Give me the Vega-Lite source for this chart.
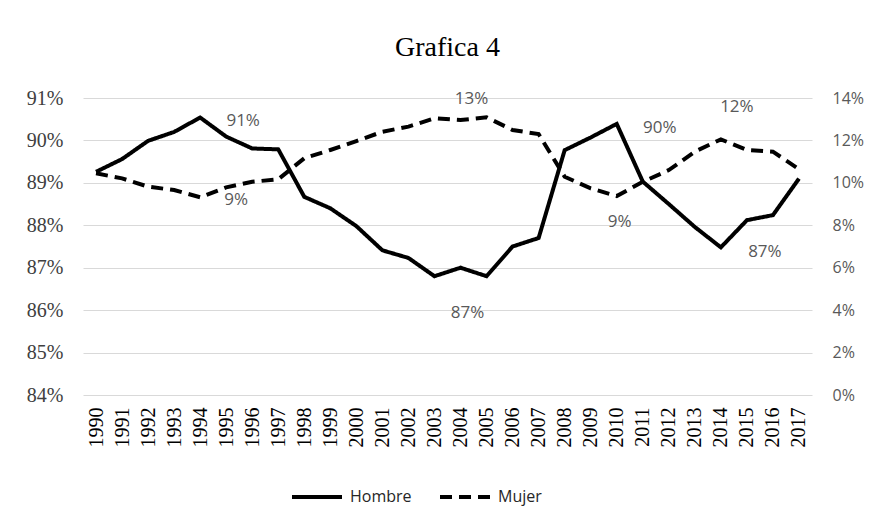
{
  "$schema": "https://vega.github.io/schema/vega-lite/v6.json",
  "width": 729,
  "height": 297,
  "autosize": {"type": "none"},
  "padding": {"left": 83, "top": 98, "right": 63, "bottom": 134},
  "background": "white",
  "config": {"view": {"stroke": null}},
  "title": {"text": "Grafica 4", "font": "Liberation Serif", "fontSize": 28, "fontWeight": "normal", "color": "#000000", "offset": 26, "anchor": "middle"},
  "data": {
    "values": [
      {"year": 1990, "hombre": 0.8926, "mujer": 0.1045},
      {"year": 1991, "hombre": 0.8956, "mujer": 0.1021},
      {"year": 1992, "hombre": 0.8999, "mujer": 0.0982},
      {"year": 1993, "hombre": 0.9020, "mujer": 0.0966},
      {"year": 1994, "hombre": 0.9054, "mujer": 0.0932},
      {"year": 1995, "hombre": 0.9009, "mujer": 0.0979},
      {"year": 1996, "hombre": 0.8981, "mujer": 0.1005},
      {"year": 1997, "hombre": 0.8979, "mujer": 0.1017},
      {"year": 1998, "hombre": 0.8867, "mujer": 0.1116},
      {"year": 1999, "hombre": 0.8840, "mujer": 0.1155},
      {"year": 2000, "hombre": 0.8798, "mujer": 0.1197},
      {"year": 2001, "hombre": 0.8741, "mujer": 0.1241},
      {"year": 2002, "hombre": 0.8723, "mujer": 0.1265},
      {"year": 2003, "hombre": 0.8680, "mujer": 0.1304},
      {"year": 2004, "hombre": 0.8700, "mujer": 0.1296},
      {"year": 2005, "hombre": 0.8680, "mujer": 0.1309},
      {"year": 2006, "hombre": 0.8750, "mujer": 0.1249},
      {"year": 2007, "hombre": 0.8770, "mujer": 0.1230},
      {"year": 2008, "hombre": 0.8977, "mujer": 0.1029},
      {"year": 2009, "hombre": 0.9007, "mujer": 0.0974},
      {"year": 2010, "hombre": 0.9039, "mujer": 0.0938},
      {"year": 2011, "hombre": 0.8903, "mujer": 0.1005},
      {"year": 2012, "hombre": 0.8850, "mujer": 0.1060},
      {"year": 2013, "hombre": 0.8796, "mujer": 0.1147},
      {"year": 2014, "hombre": 0.8748, "mujer": 0.1205},
      {"year": 2015, "hombre": 0.8812, "mujer": 0.1155},
      {"year": 2016, "hombre": 0.8824, "mujer": 0.1147},
      {"year": 2017, "hombre": 0.8910, "mujer": 0.1064}
    ]
  },
  "encoding": {
    "x": {
      "field": "year", "type": "ordinal",
      "scale": {"type": "point", "padding": 0.5},
      "axis": {"title": null, "labelAngle": -90, "labelFont": "Liberation Serif", "labelFontSize": 20, "labelColor": "#000000", "ticks": false, "domain": false, "grid": false, "labelPadding": 12}
    }
  },
  "layer": [
    {
      "encoding": {
        "y": {
          "field": "hombre", "type": "quantitative",
          "scale": {"domain": [0.84, 0.91], "nice": false, "zero": false},
          "axis": {"orient": "left", "title": null, "values": [0.84, 0.85, 0.86, 0.87, 0.88, 0.89, 0.90, 0.91], "format": ".0%", "grid": true, "gridColor": "#d9d9d9", "gridWidth": 1, "ticks": false, "domain": false, "labelFont": "Liberation Serif", "labelFontSize": 20, "labelColor": "#404040", "labelPadding": 20}
        }
      },
      "layer": [
        {
          "mark": {"type": "line", "color": "#000000", "strokeWidth": 4, "strokeJoin": "miter"},
          "encoding": {
            "strokeDash": {
              "datum": "Hombre", "type": "nominal",
              "scale": {"domain": ["Hombre", "Mujer"], "range": [[1, 0], [12, 7]]},
              "legend": {"title": null, "orient": "none", "legendX": 207, "legendY": 372, "direction": "horizontal", "symbolType": "stroke", "symbolStrokeWidth": 4, "symbolSize": 2500, "symbolStrokeColor": "#000000", "labelFont": "Open Sans", "labelFontSize": 16, "labelColor": "#262626", "labelOffset": 6, "columnPadding": 20}
            }
          }
        },
        {
          "transform": [{"filter": "datum.year == 1994"}],
          "mark": {"type": "text", "font": "Open Sans", "fontSize": 17, "color": "#595959", "dx": 43, "dy": 3},
          "encoding": {"text": {"field": "hombre", "type": "quantitative", "format": ".0%"}}
        },
        {
          "transform": [{"filter": "datum.year == 2004"}],
          "mark": {"type": "text", "font": "Open Sans", "fontSize": 17, "color": "#595959", "dx": 7, "dy": 45},
          "encoding": {"text": {"field": "hombre", "type": "quantitative", "format": ".0%"}}
        },
        {
          "transform": [{"filter": "datum.year == 2010"}],
          "mark": {"type": "text", "font": "Open Sans", "fontSize": 17, "color": "#595959", "dx": 43, "dy": 4},
          "encoding": {"text": {"field": "hombre", "type": "quantitative", "format": ".0%"}}
        },
        {
          "transform": [{"filter": "datum.year == 2014"}],
          "mark": {"type": "text", "font": "Open Sans", "fontSize": 17, "color": "#595959", "dx": 44, "dy": 5},
          "encoding": {"text": {"field": "hombre", "type": "quantitative", "format": ".0%"}}
        }
      ]
    },
    {
      "encoding": {
        "y": {
          "field": "mujer", "type": "quantitative",
          "scale": {"domain": [0, 0.14], "nice": false, "zero": true},
          "axis": {"orient": "right", "title": null, "values": [0, 0.02, 0.04, 0.06, 0.08, 0.10, 0.12, 0.14], "format": ".0%", "grid": false, "ticks": false, "domain": false, "labelFont": "Open Sans", "labelFontSize": 16, "labelColor": "#595959", "labelPadding": 20}
        }
      },
      "layer": [
        {
          "mark": {"type": "line", "color": "#000000", "strokeWidth": 4, "strokeJoin": "miter"},
          "encoding": {
            "strokeDash": {"datum": "Mujer", "type": "nominal"}
          }
        },
        {
          "transform": [{"filter": "datum.year == 1994"}],
          "mark": {"type": "text", "font": "Open Sans", "fontSize": 17, "color": "#595959", "dx": 36, "dy": 3},
          "encoding": {"text": {"field": "mujer", "type": "quantitative", "format": ".0%"}}
        },
        {
          "transform": [{"filter": "datum.year == 2004"}],
          "mark": {"type": "text", "font": "Open Sans", "fontSize": 17, "color": "#595959", "dx": 11, "dy": -21},
          "encoding": {"text": {"field": "mujer", "type": "quantitative", "format": ".0%"}}
        },
        {
          "transform": [{"filter": "datum.year == 2010"}],
          "mark": {"type": "text", "font": "Open Sans", "fontSize": 17, "color": "#595959", "dx": 3, "dy": 26},
          "encoding": {"text": {"field": "mujer", "type": "quantitative", "format": ".0%"}}
        },
        {
          "transform": [{"filter": "datum.year == 2014"}],
          "mark": {"type": "text", "font": "Open Sans", "fontSize": 17, "color": "#595959", "dx": 16, "dy": -32},
          "encoding": {"text": {"field": "mujer", "type": "quantitative", "format": ".0%"}}
        }
      ]
    }
  ],
  "resolve": {"scale": {"y": "independent"}}
}
